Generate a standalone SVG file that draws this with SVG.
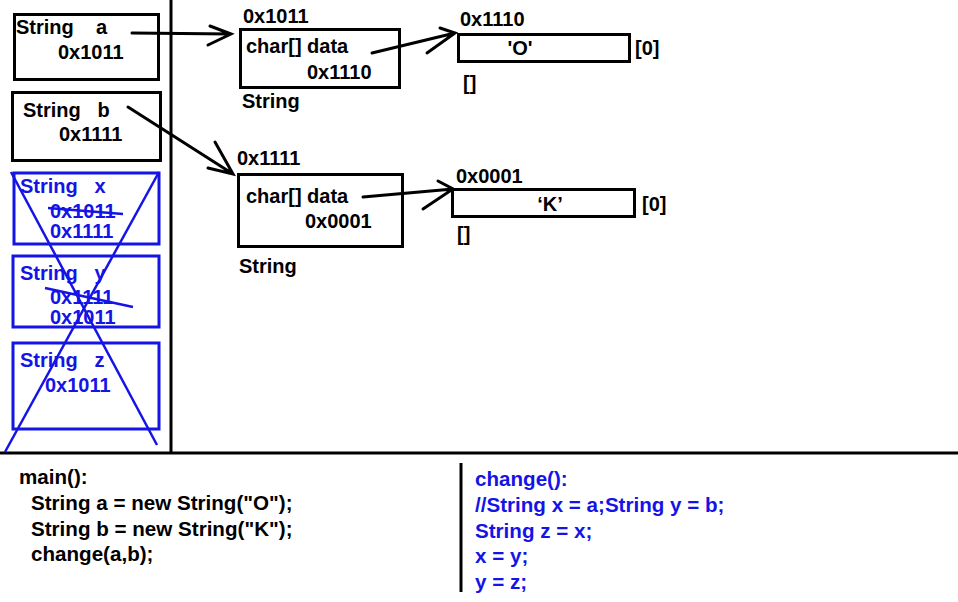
<svg xmlns="http://www.w3.org/2000/svg" width="958" height="602" viewBox="0 0 958 602">
<style>
text{font-family:"Liberation Sans",Arial,sans-serif;font-weight:bold;font-size:20px;fill:#000;white-space:pre}
.code text{font-size:20.6px}
.b text,text.b{fill:#1414e6}
.box{fill:none;stroke:#000;stroke-width:3}
.bbox{fill:none;stroke:#1414e6;stroke-width:3}
.bl{stroke:#1414e6;stroke-width:2.5;fill:none}
.ln{stroke:#000;stroke-width:3;fill:none}
.ar{stroke:#000;stroke-width:3;fill:none;stroke-linecap:round}
.m{text-anchor:middle}
</style>
<rect width="958" height="602" fill="#fff"/>
<g id="frame">
<line class="ln" x1="171" y1="0" x2="171" y2="453"/>
<line class="ln" x1="0" y1="453" x2="958" y2="453"/>
<line class="ln" x1="461" y1="463" x2="461" y2="592"/>
</g>
<g id="var-a">
<rect class="box" x="14.5" y="14.5" width="144" height="65"/>
<text x="16" y="34" xml:space="preserve">String    a</text>
<text x="58" y="59">0x1011</text>
</g>
<g id="var-b">
<rect class="box" x="12.5" y="92.5" width="148" height="68"/>
<text x="23" y="117" xml:space="preserve">String   b</text>
<text x="59" y="141">0x1111</text>
</g>
<g id="var-x" class="b">
<rect class="bbox" x="14" y="173" width="145" height="71"/>
<text x="20" y="193" xml:space="preserve">String   x</text>
<text x="50" y="218">0x1011</text>
<line class="bl" x1="48" y1="208" x2="123" y2="214"/>
<text x="50" y="238">0x1111</text>
</g>
<g id="var-y" class="b">
<rect class="bbox" x="13" y="256" width="146" height="71"/>
<text x="20" y="280" xml:space="preserve">String   y</text>
<text x="50" y="304">0x1111</text>
<line class="bl" x1="45" y1="288" x2="133" y2="307"/>
<text x="50" y="324">0x1011</text>
</g>
<g id="var-z" class="b">
<rect class="bbox" x="13" y="343" width="146" height="86"/>
<text x="20" y="367" xml:space="preserve">String   z</text>
<text x="45" y="392">0x1011</text>
</g>
<g id="cross">
<line class="bl" x1="11" y1="172" x2="157" y2="445"/>
<line class="bl" x1="159" y1="172" x2="5" y2="452"/>
</g>
<g id="str-1011">
<text x="243" y="23">0x1011</text>
<rect class="box" x="240.5" y="29.5" width="159" height="58"/>
<text x="246" y="53">char[] data</text>
<text x="307" y="79">0x1110</text>
<text x="242" y="108">String</text>
</g>
<g id="arr-1110">
<text x="460" y="26">0x1110</text>
<rect class="box" x="458.5" y="34.5" width="171" height="27"/>
<text class="m" x="520" y="55">'O'</text>
<text x="635" y="55">[0]</text>
<text x="463" y="90">[]</text>
</g>
<g id="str-1111">
<text x="237" y="165">0x1111</text>
<rect class="box" x="238.5" y="174.5" width="164" height="72"/>
<text x="246" y="203">char[] data</text>
<text x="305" y="228">0x0001</text>
<text x="239" y="273">String</text>
</g>
<g id="arr-0001">
<text x="456" y="183">0x0001</text>
<rect class="box" x="452.5" y="189.5" width="182" height="27"/>
<text class="m" x="550" y="211">‘K’</text>
<text x="642" y="211">[0]</text>
<text x="457" y="241">[]</text>
</g>
<g id="connectors">
<path class="ar" d="M132,33 L231,34 M210,26 L231,34 L208,45"/>
<path class="ar" d="M128,107 L233,174 M215,142 L233,174 L208,168"/>
<path class="ar" d="M372,53 L455,33 M440,28 L455,33 L427,53"/>
<path class="ar" d="M363,197 L453,189 M438,181 L453,189 L423,209"/>
</g>
<g id="code-main" class="code">
<text x="19" y="484">main():</text>
<text x="31" y="510">String a = new String("O");</text>
<text x="31" y="536">String b = new String("K");</text>
<text x="31" y="561">change(a,b);</text>
</g>
<g id="code-change" class="b code">
<text x="475" y="486">change():</text>
<text x="475" y="512">//String x = a;String y = b;</text>
<text x="475" y="538">String z = x;</text>
<text x="475" y="563">x = y;</text>
<text x="475" y="589">y = z;</text>
</g>
</svg>
